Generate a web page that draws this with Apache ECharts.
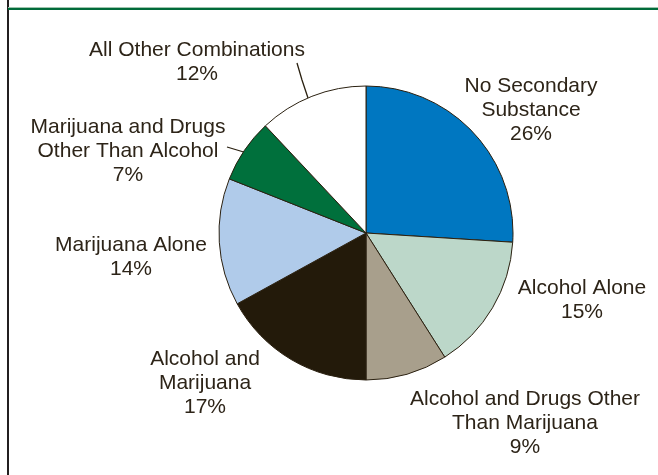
<!DOCTYPE html>
<html>
<head>
<meta charset="utf-8">
<script src="https://cdn.jsdelivr.net/npm/echarts@6/dist/echarts.min.js"></script>
<style>
  html, body { margin: 0; padding: 0; background: #fff; }
  #chart { width: 658px; height: 475px; }
</style>
</head>
<body>
<div id="chart"></div>
<script>
// slices, clockwise from 12 o'clock
const categories = [
  'No Secondary\nSubstance',
  'Alcohol Alone',
  'Alcohol and Drugs Other\nThan Marijuana',
  'Alcohol and\nMarijuana',
  'Marijuana Alone',
  'Marijuana and Drugs\nOther Than Alcohol',
  'All Other Combinations'
]
const percents = [26, 15, 9, 17, 14, 7, 12]
const colors = ['#0077C1', '#BCD7C9', '#A89F8C', '#231A0A', '#B0CBEA', '#00703C', '#FFFFFF']

// label placement (text centre) and leader lines
const labelPos = [
  [531, 110], [582, 300], [525, 423], [205, 383], [131, 257], [128, 151], [197, 62]
]
const leaderLines = {
  5: [[247, 153], [237, 150], [227, 147]],
  6: [[308, 98], [302, 80], [297, 63]]
}

let myChart = echarts.init(document.getElementById('chart'))
let data = []
for (let i = 0; i < categories.length; i++) {
  data.push({
    name: categories[i],
    value: percents[i],
    itemStyle: { color: colors[i] },
    labelLine: { show: !!leaderLines[i] }
  })
}

let option = {
  animation: false,
  graphic: [
    // frame: dark left rule and green top rule
    { type: 'rect', shape: { x: 7, y: 0, width: 2, height: 475 }, style: { fill: '#231f20' } },
    { type: 'rect', shape: { x: 8, y: 7, width: 650, height: 1 }, style: { fill: '#9fc4ad' } },
    { type: 'rect', shape: { x: 8, y: 8, width: 650, height: 2 }, style: { fill: '#006B3A' } }
  ],
  series: [{
    type: 'pie',
    center: [366, 233],
    radius: 147,
    startAngle: 90,
    clockwise: true,
    avoidLabelOverlap: false,
    itemStyle: { borderColor: '#2a2010', borderWidth: 1 },
    label: {
      show: true,
      position: 'outside',
      formatter: '{b}\n{c}%',
      fontFamily: '"Liberation Sans", Arial, sans-serif',
      fontSize: 21,
      lineHeight: 24,
      color: '#2d2418',
      align: 'center'
    },
    labelLine: {
      show: false,
      lineStyle: { color: '#2a2010', width: 1.3 }
    },
    labelLayout: function (params) {
      let i = params.dataIndex
      let res = {
        x: labelPos[i][0],
        y: labelPos[i][1],
        align: 'center',
        verticalAlign: 'middle'
      }
      if (leaderLines[i]) res.labelLinePoints = leaderLines[i]
      return res
    },
    data: data
  }]
}
myChart.setOption(option)
</script>
</body>
</html>
